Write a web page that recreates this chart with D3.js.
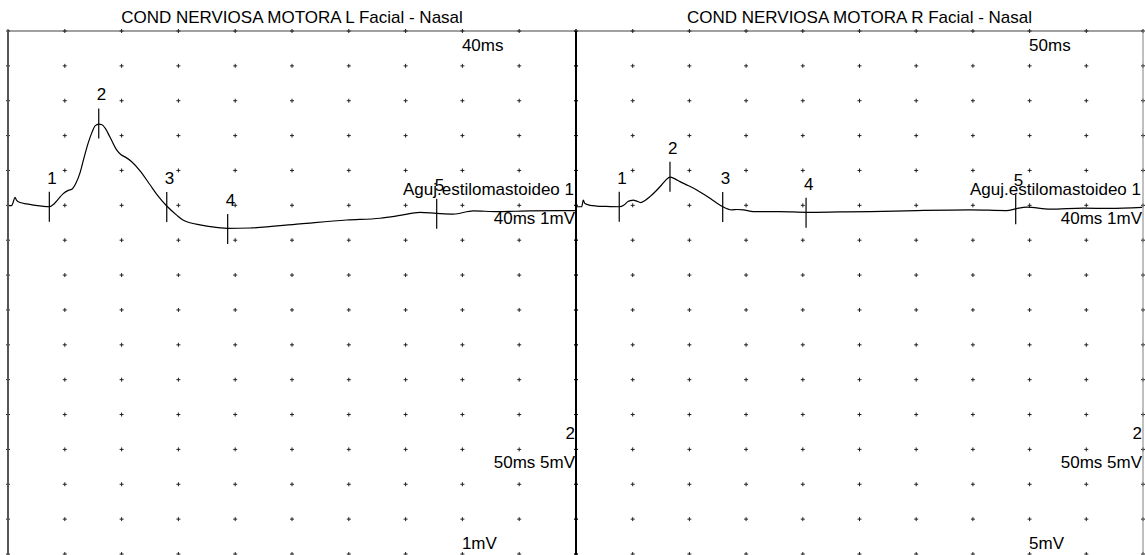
<!DOCTYPE html>
<html>
<head>
<meta charset="utf-8">
<script src="https://cdn.jsdelivr.net/npm/d3@7"></script>
<style>
  body { margin: 0; background: #fff; }
  svg text { font-family: "Liberation Sans", Arial, sans-serif; font-size: 17px; fill: #000; }
</style>
</head>
<body>
<div id="chart"></div>
<script>
// Trace data: time in ms, amplitude in mV (relative to baseline)
var leftTime = [0.02, 0.25, 0.35, 0.49, 0.61, 0.85, 1.32, 1.90, 2.91, 3.24, 3.54, 3.87, 4.25, 4.49, 4.79,
  5.07, 5.35, 5.65, 5.92, 6.13, 6.39, 6.62, 6.83, 7.18, 7.65, 7.96, 8.24, 8.71, 9.30, 10.00,
  10.56, 11.18, 11.88, 12.32, 12.82, 13.52, 14.23, 15.47, 17.04, 20.56, 23.85, 26.20, 27.61, 29.01, 30.19,
  31.36, 32.77, 34.42, 36.76, 39.93];
var leftAmp = [-0.01, -0.01, 0.07, 0.23, 0.14, 0.08, 0.04, 0.00, -0.04, 0.04, 0.18, 0.33, 0.43, 0.46, 0.64,
  0.93, 1.36, 1.79, 2.10, 2.28, 2.33, 2.31, 2.22, 1.96, 1.59, 1.45, 1.39, 1.25, 0.99, 0.59,
  0.27, -0.02, -0.28, -0.42, -0.50, -0.56, -0.61, -0.66, -0.65, -0.53, -0.42, -0.37, -0.29, -0.20, -0.23,
  -0.25, -0.16, -0.18, -0.16, -0.15];

var rightTime = [0.05, 0.40, 0.47, 0.51, 0.63, 0.99, 1.46, 2.05, 3.05, 3.39, 3.67, 3.81, 4.04, 4.23, 4.56,
  4.87, 5.22, 5.64, 6.05, 6.35, 6.63, 6.98, 7.34, 7.90, 8.52, 8.96, 9.45, 9.88, 10.35, 10.98,
  11.36, 11.80, 12.51, 14.39, 16.23, 18.62, 20.74, 24.04, 27.80, 30.38, 31.02, 31.80, 33.44, 35.79, 37.67, 39.93];
var rightAmp = [-0.04, -0.04, 0.07, 0.15, 0.05, 0.00, -0.02, -0.03, -0.04, 0.01, 0.11, 0.13, 0.15, 0.13, 0.08,
  0.14, 0.25, 0.41, 0.59, 0.73, 0.81, 0.76, 0.68, 0.57, 0.44, 0.33, 0.20, 0.08, -0.04, -0.13,
  -0.12, -0.13, -0.18, -0.18, -0.20, -0.19, -0.18, -0.15, -0.13, -0.15, -0.10, -0.05, -0.11, -0.08, -0.09, -0.06];

// Cursor markers
var markLabels = ["1", "2", "3", "4", "5"];
var leftMarkTime = [2.91, 6.39, 11.18, 15.47, 30.19];
var leftMarkAmp = [-0.04, 2.35, -0.05, -0.68, -0.24];
var rightMarkTime = [3.05, 6.63, 10.35, 16.23, 31.02];
var rightMarkAmp = [-0.04, 0.82, -0.05, -0.21, -0.11];

// Grid divisions
var gridTimes = d3.range(0, 41, 4);
var gridAmps = d3.range(-10, 6, 1);

var titles = ["COND NERVIOSA MOTORA L Facial - Nasal", "COND NERVIOSA MOTORA R Facial - Nasal"];
var sweepLabels = ["40ms", "50ms"];
var gainLabels = ["1mV", "5mV"];
var siteLabel = "Aguj.estilomastoideo 1";
var trace1Label = "40ms 1mV";
var trace2Num = "2";
var trace2Label = "50ms 5mV";

var width = 1145, height = 555;
var plotTop = 31, plotBottom = 554;

var svg = d3.select("#chart").append("svg")
    .attr("width", width)
    .attr("height", height);

var panels = [
  {x0: 8, x1: 576, time: leftTime, amp: leftAmp, mt: leftMarkTime, ma: leftMarkAmp},
  {x0: 576, x1: 1143, time: rightTime, amp: rightAmp, mt: rightMarkTime, ma: rightMarkAmp}
];

var y = d3.scaleLinear().domain([5, -10]).range([plotTop, plotBottom]);

panels.forEach(function(p, i) {
  var x = d3.scaleLinear().domain([0, 40]).range([p.x0, p.x1]);
  var g = svg.append("g");

  // Title
  g.append("text")
    .attr("x", (p.x0 + p.x1) / 2)
    .attr("y", 22.5)
    .attr("text-anchor", "middle")
    .text(titles[i]);

  // Top border
  g.append("line")
    .attr("x1", p.x0).attr("x2", p.x1)
    .attr("y1", plotTop).attr("y2", plotTop)
    .attr("stroke", "#808080").attr("stroke-width", 1.5);

  // Grid crosses
  var pts = [];
  gridTimes.forEach(function(t) {
    gridAmps.forEach(function(a) { pts.push([x(t), y(a)]); });
  });
  g.append("path")
    .attr("d", pts.map(function(d) {
      return "M" + (d[0] - 2) + "," + d[1] + "h4M" + d[0] + "," + (d[1] - 2) + "v4";
    }).join(""))
    .attr("stroke", "#222")
    .attr("stroke-width", 1)
    .attr("fill", "none");

  // Trace
  var data = p.time.map(function(t, k) { return {t: t, v: p.amp[k]}; });
  var line = d3.line()
    .x(function(d) { return x(d.t); })
    .y(function(d) { return y(d.v); })
    .curve(d3.curveMonotoneX);
  g.append("path")
    .datum(data)
    .attr("d", line)
    .attr("fill", "none")
    .attr("stroke", "#000")
    .attr("stroke-width", 1.2);

  // Markers
  p.mt.forEach(function(t, k) {
    var mx = x(t), my = y(p.ma[k]);
    g.append("line")
      .attr("x1", mx).attr("x2", mx)
      .attr("y1", my - 15).attr("y2", my + 15)
      .attr("stroke", "#000").attr("stroke-width", 1.2);
    g.append("text")
      .attr("x", mx - 2)
      .attr("y", my - 23)
      .text(markLabels[k]);
  });

  // Labels
  g.append("text").attr("x", x(32) - 0.5).attr("y", y(5) + 20).text(sweepLabels[i]);
  g.append("text").attr("x", x(32) - 0.5).attr("y", y(-10) - 5).text(gainLabels[i]);
  g.append("text").attr("x", p.x1 - 2).attr("y", y(0) - 10.5)
    .attr("text-anchor", "end").text(siteLabel);
  g.append("text").attr("x", p.x1 - 1).attr("y", y(0) + 18.5)
    .attr("text-anchor", "end").text(trace1Label);
  g.append("text").attr("x", p.x1 - 1).attr("y", y(-7) - 10)
    .attr("text-anchor", "end").text(trace2Num);
  g.append("text").attr("x", p.x1 - 1).attr("y", y(-7) + 19)
    .attr("text-anchor", "end").text(trace2Label);
});

// Vertical borders
svg.append("line").attr("x1", 8).attr("x2", 8).attr("y1", plotTop).attr("y2", height)
  .attr("stroke", "#555").attr("stroke-width", 2);
svg.append("line").attr("x1", 576).attr("x2", 576).attr("y1", plotTop).attr("y2", height)
  .attr("stroke", "#000").attr("stroke-width", 2);
svg.append("line").attr("x1", 1143).attr("x2", 1143).attr("y1", plotTop).attr("y2", height)
  .attr("stroke", "#808080").attr("stroke-width", 1);
</script>
</body>
</html>
